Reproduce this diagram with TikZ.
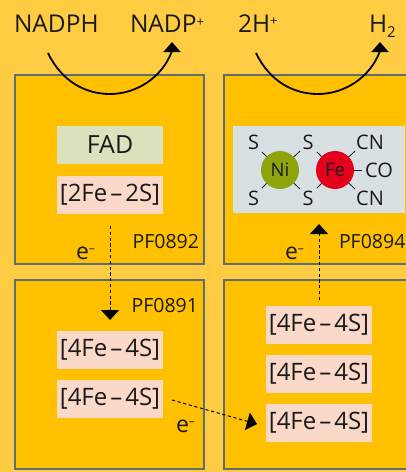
\documentclass[tikz,border=0pt]{standalone}
\usepackage{fontspec}
\setmainfont{Open Sans}
\usetikzlibrary{arrows.meta}
\definecolor{bg}{HTML}{FFCC42}
\definecolor{boxfill}{HTML}{FFC000}
\definecolor{boxline}{HTML}{5A6E78}
\definecolor{fadc}{HTML}{DDE2BE}
\definecolor{pink}{HTML}{FBD9C8}
\definecolor{greyc}{HTML}{D9E0E4}
\definecolor{nic}{HTML}{8FA30A}
\definecolor{fec}{HTML}{E2001A}
\definecolor{ink}{HTML}{1A1A1A}
\tikzset{
  x=1pt,y=-1pt,
  every node/.style={text=ink,font=\fontsize{23}{26}\selectfont,inner sep=0pt,outer sep=0pt},
  chain/.style={draw=boxline,line width=2pt,fill=boxfill,minimum width=189pt,minimum height=189pt},
  cof/.style={minimum width=106pt,minimum height=38pt,font=\fontsize{24}{26}\selectfont},
  big/.style={font=\fontsize{24.5}{28}\selectfont},
  pf/.style={font=\fontsize{19.5}{22}\selectfont},
  atom/.style={font=\fontsize{20}{22}\selectfont},
  metal/.style={circle,minimum size=38pt,font=\fontsize{18.5}{20}\selectfont},
  bond/.style={line width=0.8pt,draw=ink},
  flow/.style={line width=1.8pt,draw=black,-{Triangle[width=17pt,length=10pt]}},
  etr/.style={line width=1pt,draw=black,dashed,dash pattern=on 3.2pt off 2.6pt,-{Triangle[width=18pt,length=10pt]}}
}
\newcommand{\clust}[1]{\raisebox{-1.5pt}{[#1Fe\hspace{3pt}–\hspace{3pt}#1S]}}
\begin{document}
\begin{tikzpicture}
\useasboundingbox (0,0) rectangle (406,472);
\clip (0,0) rectangle (406,472);
\fill[bg] (0,0) rectangle (406,472);
% subunits
\node[chain] (tl) at (109.5,169.5) {};
\node[chain] (tr) at (318.5,169.5) {};
\node[chain] (bl) at (109.5,374.5) {};
\node[chain] (br) at (318.5,374.5) {};
% cofactors
\node[cof,fill=fadc] (fad) at (110,145) {\raisebox{-1pt}{\fontsize{25}{26}\selectfont FAD}};
\node[cof,fill=pink] (fes) at (110,195) {\clust{2}};
\node[cof,fill=pink] (bla) at (110,350) {\clust{4}};
\node[cof,fill=pink] (blb) at (110,399) {\clust{4}};
\node[cof,fill=pink] (bra) at (319,325) {\clust{4}};
\node[cof,fill=pink] (brb) at (319,374) {\clust{4}};
\node[cof,fill=pink] (brc) at (319,423) {\clust{4}};
% active site
\node[fill=greyc,minimum width=172pt,minimum height=87pt] (site) at (319,169.5) {};
\node[metal,fill=nic] (ni) at (280,170) {Ni};
\node[metal,fill=fec] (fe) at (335,170) {Fe};
\node[atom] (s1) at (253.5,142) {S};
\node[atom] (s2) at (308,142) {S};
\node[atom] (s3) at (253.5,198) {S};
\node[atom] (s4) at (308,198) {S};
\node[atom] (cn1) at (370,142) {CN};
\node[atom] (cn2) at (370,198) {CN};
\node[atom] (co) at (379,170) {CO};
\draw[bond] (ni) -- (262,152);
\draw[bond] (ni) -- (300,151);
\draw[bond] (ni) -- (262,188);
\draw[bond] (ni) -- (300,189);
\draw[bond] (fe) -- (317,152);
\draw[bond] (fe) -- (355,151);
\draw[bond] (fe) -- (317,188);
\draw[bond] (fe) -- (355,189);
\draw[bond,shorten >=3pt] (fe) -- (co);
% labels
\node[big,anchor=base west] (nadph) at (14,32) {NADPH};
\node[big,anchor=base west] (nadp) at (130,32) {NADP\raisebox{6pt}{\fontsize{13}{13}\selectfont +}};
\node[big,anchor=base west] (twoh) at (238,32) {2H\raisebox{7pt}{\fontsize{13}{13}\selectfont +}};
\node[big,anchor=base west] (htwo) at (369,32) {H\raisebox{-5pt}{\fontsize{15}{15}\selectfont 2}};
\node[pf,anchor=base east] (pfa) at (199,248) {PF0892};
\node[pf,anchor=base east] (pfb) at (198,312) {PF0891};
\node[pf,anchor=base west] (pfc) at (339,248) {PF0894};
\node[anchor=base west] (ea) at (76,259) {e\raisebox{7pt}{\fontsize{12}{12}\selectfont –}};
\node[anchor=base west] (eb) at (176,432) {e\raisebox{7pt}{\fontsize{12}{12}\selectfont –}};
\node[anchor=base west] (ec) at (285,259) {e\raisebox{7pt}{\fontsize{12}{12}\selectfont –}};
% curved reaction arrows
\coordinate (a1) at (48,53);
\coordinate (a2) at (172,42);
\coordinate (b1) at (256,53);
\coordinate (b2) at (380,42);
\draw[flow] (a1) .. controls (62,82) and (86,94) .. (110,94) .. controls (136,94) and (162,78) .. (172,51) -- (a2);
\draw[flow] (b1) .. controls (270,82) and (294,94) .. (318,94) .. controls (344,94) and (370,78) .. (380,51) -- (b2);
% electron transfer
\coordinate (d1) at (110,226);
\coordinate (d2) at (110,320);
\coordinate (d3) at (319,300);
\coordinate (d4) at (319,224);
\coordinate (d5) at (172,400);
\coordinate (d6) at (257,424);
\draw[etr] (d1) -- (d2);
\draw[etr] (d3) -- (d4);
\draw[etr] (d5) -- (d6);
\end{tikzpicture}
\end{document}
